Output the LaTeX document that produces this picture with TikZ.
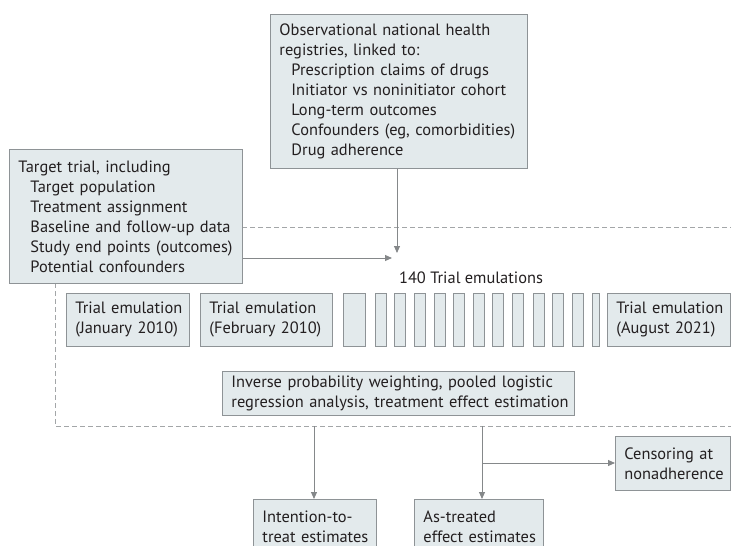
\documentclass[tikz,border=0pt]{standalone}
\usepackage{fontspec}
\setmainfont{PT Sans}
\usetikzlibrary{arrows.meta}
\definecolor{boxfill}{HTML}{E3EAEC}
\definecolor{boxline}{HTML}{8E9396}
\definecolor{arrowc}{HTML}{85888A}
\definecolor{dashc}{HTML}{A3A6A8}
\definecolor{txt}{HTML}{231F20}
\newcommand{\txl}[1]{\mbox{#1}}
\newcommand{\itm}[1]{\mbox{\hspace*{12pt}#1}}
\tikzset{
  box/.style={draw=boxline, line width=0.9pt, fill=boxfill, anchor=north west,
    inner xsep=9pt, inner ysep=0pt, align=left, text=txt,
    font=\fontsize{16.4}{20}\selectfont},
  thin/.style={draw=boxline, line width=0.9pt, fill=boxfill, anchor=north west,
    inner sep=0pt, minimum height=53pt},
  arr/.style={draw=arrowc, line width=0.9pt, -{Triangle[width=6pt,length=7pt]}},
  frame/.style={draw=dashc, line width=0.9pt, dash pattern=on 5pt off 3pt},
  lbl/.style={text=txt, font=\fontsize{16.4}{20}\selectfont}
}
\begin{document}
\begin{tikzpicture}[x=1pt,y=-1pt]
\useasboundingbox (0,0) rectangle (731,546);
\clip (0,0) rectangle (731,546);
% dashed frame
\draw[frame] (735,227) -- (55,227) -- (55,426) -- (735,426);
% boxes
\node[box, minimum width=257pt, minimum height=154pt, text width=239pt] (obs) at (270,14)
 {\txl{Observational national health}\\\txl{registries, linked to:}\\
  \itm{Prescription claims of drugs}\\
  \itm{Initiator vs noninitiator cohort}\\
  \itm{Long-term outcomes}\\
  \itm{Confounders (eg, comorbidities)}\\
  \itm{Drug adherence}};
\node[box, minimum width=233pt, minimum height=134pt, text width=215pt] (target) at (9,149)
 {\txl{Target trial, including}\\
  \itm{Target population}\\
  \itm{Treatment assignment}\\
  \itm{Baseline and follow-up data}\\
  \itm{Study end points (outcomes)}\\
  \itm{Potential confounders}};
\node[lbl] (count) at (471,278) {140 Trial emulations};
\node[box, minimum width=123pt, minimum height=53pt, text width=105pt] (t1) at (66,293)
 {\txl{Trial emulation}\\\txl{(January 2010)}};
\node[box, minimum width=132pt, minimum height=53pt, text width=114pt] (t2) at (200,293)
 {\txl{Trial emulation}\\\txl{(February 2010)}};
\node[thin, minimum width=22pt] (s0) at (343,293) {};
\foreach \xx [count=\i] in {375,394,414,434,453,473,492,512,533,552,572}
  \node[thin, minimum width=11pt] (s\i) at (\xx,293) {};
\node[thin, minimum width=7pt] (s12) at (592,293) {};
\node[box, minimum width=123pt, minimum height=53pt, text width=105pt] (tn) at (607,293)
 {\txl{Trial emulation}\\\txl{(August 2021)}};
\node[box, minimum width=352pt, minimum height=44pt, text width=334pt] (ipw) at (222,371)
 {\txl{Inverse probability weighting, pooled logistic}\\\txl{regression analysis, treatment effect estimation}};
\node[box, minimum width=115pt, minimum height=54pt, text width=97pt] (cens) at (615,436)
 {\txl{Censoring at}\\\txl{nonadherence}};
\node[box, minimum width=123pt, minimum height=54pt, text width=105pt] (itt) at (253,499)
 {\txl{Intention-to-}\\\txl{treat estimates}};
\node[box, minimum width=129pt, minimum height=54pt, text width=111pt] (at) at (414,499)
 {\txl{As-treated}\\\txl{effect estimates}};
% connectors
\coordinate (m1) at (397,253);
\coordinate (m2) at (392,258);
\draw[arr] (obs.south -| m1) -- (m1);
\draw[arr] (target.east |- m2) -- (m2);
\coordinate (d1) at (314,426);
\coordinate (d2) at (482,426);
\coordinate (br) at (482,463);
\draw[arr] (d1) -- (itt.north -| d1);
\draw[arr] (d2) -- (at.north -| d2);
\draw[arr] (br) -- (cens.west |- br);
\end{tikzpicture}
\end{document}
